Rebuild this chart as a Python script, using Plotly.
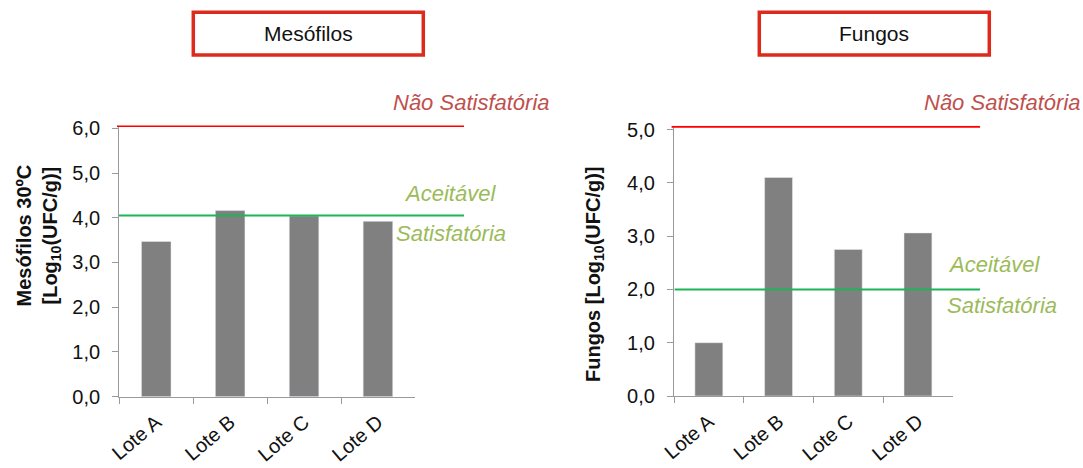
import plotly.graph_objects as go

W, H = 1083, 468

# ---- data ----
lotes = ["Lote A", "Lote B", "Lote C", "Lote D"]
mesofilos = [3.47, 4.16, 4.04, 3.92]
fungos = [1.0, 4.1, 2.75, 3.06]
mesofilos_limites = [4.05, 6.05]   # Satisfatória/Aceitável, Não Satisfatória
fungos_limites = [2.0, 5.05]
mesofilos_ticks = [0, 1, 2, 3, 4, 5, 6]
fungos_ticks = [0, 1, 2, 3, 4, 5]

FONT = "Liberation Sans, Arial, sans-serif"
BAR = "#808080"
AXIS = "#9a9a9a"
RED = "#ff0000"
GREEN = "#1fb455"
RED_TXT = "#c0504d"
GREEN_TXT = "#9bbb59"
BOX = "#dc2a1c"


def px(x):
    return x / W


def py(y):
    return 1 - y / H


fig = go.Figure()
fig.add_trace(go.Bar(x=lotes, y=mesofilos, marker_color=BAR, xaxis="x", yaxis="y",
                     showlegend=False, hoverinfo="x+y"))
fig.add_trace(go.Bar(x=lotes, y=fungos, marker_color=BAR, xaxis="x2", yaxis="y2",
                     showlegend=False, hoverinfo="x+y"))

xcommon = dict(showline=True, linecolor=AXIS, linewidth=1.3, ticks="outside", tickson="boundaries",
               ticklen=6, tickcolor=AXIS, tickwidth=1.3, tickangle=-40, automargin=False,
               tickfont=dict(family=FONT, size=20, color="#111111"), ticklabelstandoff=5,
               showgrid=False, range=[-0.5, 3.5], fixedrange=True)
ycommon = dict(showline=True, linecolor=AXIS, linewidth=1.3, ticks="outside", ticklen=6,
               tickcolor=AXIS, tickwidth=1.3, tickformat=".1f", showgrid=False, zeroline=False,
               tickfont=dict(family=FONT, size=20, color="#111111"), ticklabelstandoff=8,
               automargin=False, fixedrange=True)

fig.update_layout(
    width=W, height=H,
    autosize=False,
    margin=dict(l=0, r=0, t=0, b=0, pad=0, autoexpand=False),
    paper_bgcolor="white", plot_bgcolor="white",
    separators=",.",
    bargap=0.6,
    font=dict(family=FONT, color="#111111"),
    xaxis=dict(domain=[px(119.3), px(414.9)], anchor="y", **xcommon),
    yaxis=dict(domain=[py(396.7), py(125.6)], anchor="x", range=[0, 6.06],
               tickvals=mesofilos_ticks, **ycommon),
    xaxis2=dict(domain=[px(674), px(952.8)], anchor="y2", **xcommon),
    yaxis2=dict(domain=[py(396), py(125.8)], anchor="x2", range=[0, 5.07],
                tickvals=fungos_ticks, **ycommon),
)

shapes = []
# threshold lines
shapes.append(dict(type="line", xref="paper", yref="y", x0=px(117), x1=px(464),
                   y0=mesofilos_limites[1], y1=mesofilos_limites[1], line=dict(color=RED, width=2)))
shapes.append(dict(type="line", xref="paper", yref="y", x0=px(119), x1=px(464),
                   y0=mesofilos_limites[0], y1=mesofilos_limites[0], line=dict(color=GREEN, width=2)))
shapes.append(dict(type="line", xref="paper", yref="y2", x0=px(671.6), x1=px(980),
                   y0=fungos_limites[1], y1=fungos_limites[1], line=dict(color=RED, width=2)))
shapes.append(dict(type="line", xref="paper", yref="y2", x0=px(674.6), x1=px(980),
                   y0=fungos_limites[0], y1=fungos_limites[0], line=dict(color=GREEN, width=2)))
# title boxes
for x0, x1 in [(193.3, 423.3), (759.3, 989.3)]:
    shapes.append(dict(type="rect", xref="paper", yref="paper", x0=px(x0), x1=px(x1),
                       y0=py(55), y1=py(12.3), line=dict(color=BOX, width=3.5),
                       fillcolor="white", layer="below"))
fig.update_layout(shapes=shapes)

ann = []


def txt(text, x, y, size, color, angle=0):
    ann.append(dict(text=text, x=px(x), y=py(y), xref="paper", yref="paper", showarrow=False,
                    xanchor="center", yanchor="middle", textangle=angle,
                    font=dict(family=FONT, size=size, color=color)))


txt("Mesófilos", 308.3, 34, 21, "#111111")
txt("Fungos", 874.3, 34, 21, "#111111")
txt("<i>Não Satisfatória</i>", 471.5, 102, 22, RED_TXT)
txt("<i>Aceitável</i>", 450, 193.5, 22, GREEN_TXT)
txt("<i>Satisfatória</i>", 451.3, 233, 22, GREEN_TXT)
txt("<i>Não Satisfatória</i>", 1002.5, 102, 22, RED_TXT)
txt("<i>Aceitável</i>", 994, 264, 22, GREEN_TXT)
txt("<i>Satisfatória</i>", 1001.5, 305, 22, GREEN_TXT)
txt("<b>Mesófilos 30ºC<br>[Log<sub>10</sub>(UFC/g)]</b>", 37.5, 236, 20, "#111111", -90)
txt("<b>Fungos [Log<sub>10</sub>(UFC/g)]</b>", 594, 274, 20, "#111111", -90)
fig.update_layout(annotations=ann)

fig.write_html(
    "out.html",
    config={"displayModeBar": False},
    post_script="document.body.style.margin='0';document.body.style.overflow='hidden';",
)
